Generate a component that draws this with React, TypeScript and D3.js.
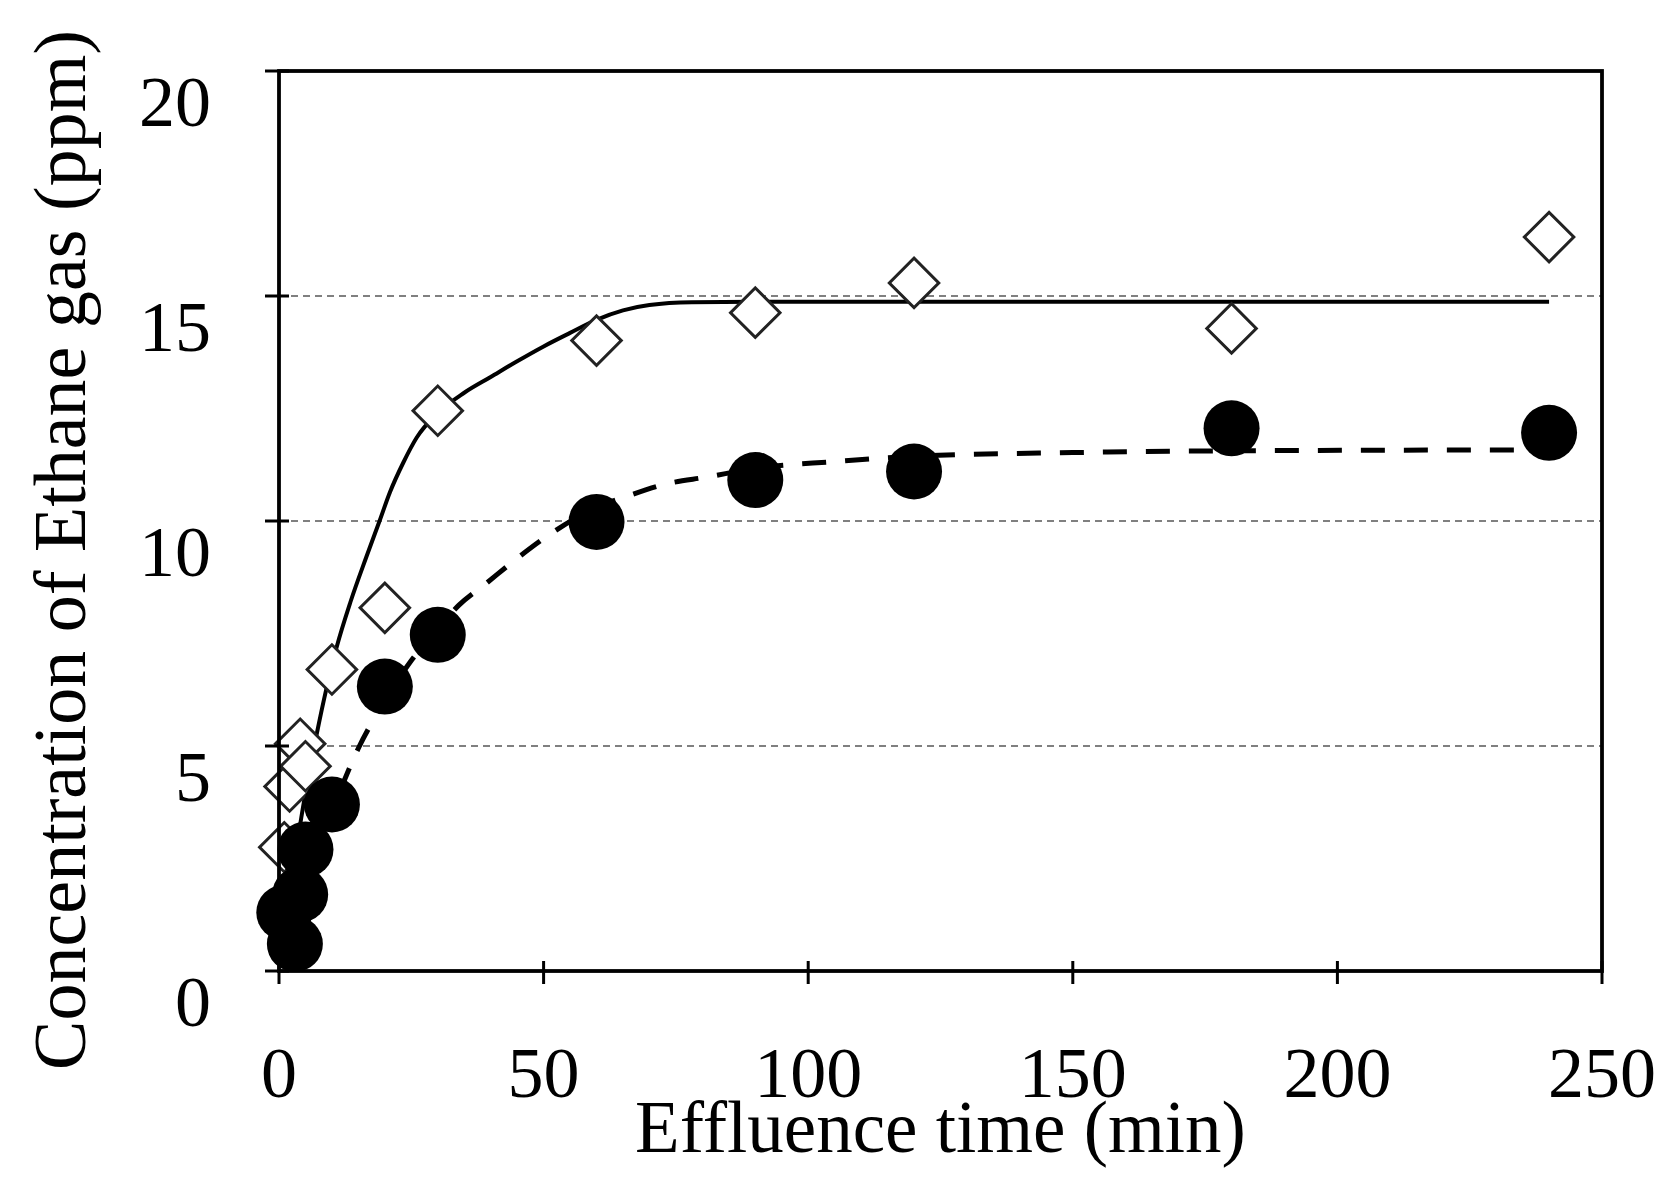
import React from "react";
import * as d3 from "d3";

// Open diamonds
const diamondTimes = [1, 2, 4, 5, 10, 20, 30, 60, 90, 120, 180, 240];
const diamondValues = [2.75, 4.1, 5.05, 4.55, 6.7, 8.07, 12.45, 14.01, 14.63, 15.29, 14.28, 16.31];

// Filled circles
const circleTimes = [1, 3, 4, 5, 10, 20, 30, 60, 90, 120, 180, 240];
const circleValues = [1.3, 0.6, 1.7, 2.7, 3.7, 6.32, 7.47, 9.98, 10.91, 11.1, 12.06, 11.96];

// Solid fitted curve
const solidFitTimes = [1, 4.2, 7.1, 10.9, 13.5, 16.5, 19, 21, 23.5, 26, 30, 35, 40, 45, 50, 55, 60, 65, 70, 78, 90, 240];
const solidFitValues = [0.8, 3.4, 5.25, 7.2, 8.2, 9.2, 10.0, 10.65, 11.3, 11.85, 12.4, 12.85, 13.2, 13.55, 13.88, 14.18, 14.47, 14.68, 14.8, 14.86, 14.87, 14.87];

// Dashed fitted curve
const dashedFitTimes = [1, 5, 10, 15, 20, 25, 30, 34, 39, 45, 51, 60, 66, 73, 81, 90, 105, 120, 150, 180, 240];
const dashedFitValues = [0.4, 2.0, 3.55, 4.95, 6.0, 6.9, 7.6, 8.13, 8.6, 9.17, 9.69, 10.3, 10.56, 10.82, 10.98, 11.17, 11.32, 11.44, 11.52, 11.56, 11.58];

const xTicks = [0, 50, 100, 150, 200, 250];
const yTicks = [0, 5, 10, 15, 20];
const gridValues = [5, 10, 15];

const xTitle = "Effluence time (min)";
const yTitle = "Concentration of Ethane gas (ppm)";

const W = 1673;
const H = 1204;
const L = 279, R = 1602, T = 71, B = 971;
const FONT = "'Liberation Serif', 'Times New Roman', serif";

export default function App() {
  const x = d3.scaleLinear().domain([0, 250]).range([L, R]);
  const y = d3.scaleLinear().domain([0, 20]).range([B, T]);

  const line = d3
    .line<[number, number]>()
    .x((d) => x(d[0]))
    .y((d) => y(d[1]))
    .curve(d3.curveMonotoneX);

  const solidPath = line(solidFitTimes.map((t, i) => [t, solidFitValues[i]] as [number, number])) || "";
  const dashedPath = line(dashedFitTimes.map((t, i) => [t, dashedFitValues[i]] as [number, number])) || "";

  const diamond = d3.symbol().type(d3.symbolSquare).size(35 * 35);
  const diamondPath = diamond() || "";

  return (
    <svg
      width={W}
      height={H}
      viewBox={`0 0 ${W} ${H}`}
      style={{ position: "absolute", left: 0, top: 0, display: "block", background: "#fff" }}
    >
      <rect x={0} y={0} width={W} height={H} fill="#fff" />
      {/* gridlines */}
      {gridValues.map((v) => (
        <line
          key={"g" + v}
          x1={L}
          x2={R}
          y1={y(v)}
          y2={y(v)}
          stroke="#808080"
          strokeWidth={2}
          strokeDasharray="7 5"
        />
      ))}
      {/* fitted curves */}
      <path d={dashedPath} fill="none" stroke="#000" strokeWidth={5} strokeDasharray="24 19" />
      <path d={solidPath} fill="none" stroke="#000" strokeWidth={4} />
      {/* diamonds */}
      {diamondTimes.map((t, i) => (
        <path
          key={"d" + i}
          d={diamondPath}
          transform={`translate(${x(t)},${y(diamondValues[i])}) rotate(45)`}
          fill="#fff"
          stroke="#222"
          strokeWidth={3}
        />
      ))}
      {/* circles */}
      {circleTimes.map((t, i) => (
        <circle key={"c" + i} cx={x(t)} cy={y(circleValues[i])} r={28} fill="#000" />
      ))}
      {/* frame */}
      <rect x={L} y={T} width={R - L} height={B - T} fill="none" stroke="#000" strokeWidth={3.8} />
      {/* y ticks */}
      {yTicks.map((v) => (
        <line key={"yt" + v} x1={L - 14} x2={L + 10} y1={y(v)} y2={y(v)} stroke="#000" strokeWidth={3} />
      ))}
      {/* x ticks */}
      {xTicks.map((v) => (
        <line key={"xt" + v} x1={x(v)} x2={x(v)} y1={B - 10} y2={B + 13} stroke="#000" strokeWidth={3} />
      ))}
      {/* y tick labels */}
      {yTicks.map((v) => (
        <text
          key={"yl" + v}
          x={211}
          y={y(v) + 55}
          textAnchor="end"
          fontFamily={FONT}
          fontSize={72}
          fill="#000"
        >
          {v}
        </text>
      ))}
      {/* x tick labels */}
      {xTicks.map((v) => (
        <text
          key={"xl" + v}
          x={x(v)}
          y={1097}
          textAnchor="middle"
          fontFamily={FONT}
          fontSize={72}
          fill="#000"
        >
          {v}
        </text>
      ))}
      {/* axis titles */}
      <text x={(L + R) / 2} y={1152} textAnchor="middle" fontFamily={FONT} fontSize={73} fill="#000">
        {xTitle}
      </text>
      <text
        transform={`translate(85,550) rotate(-90)`}
        textAnchor="middle"
        fontFamily={FONT}
        fontSize={74}
        fill="#000"
      >
        {yTitle}
      </text>
    </svg>
  );
}
